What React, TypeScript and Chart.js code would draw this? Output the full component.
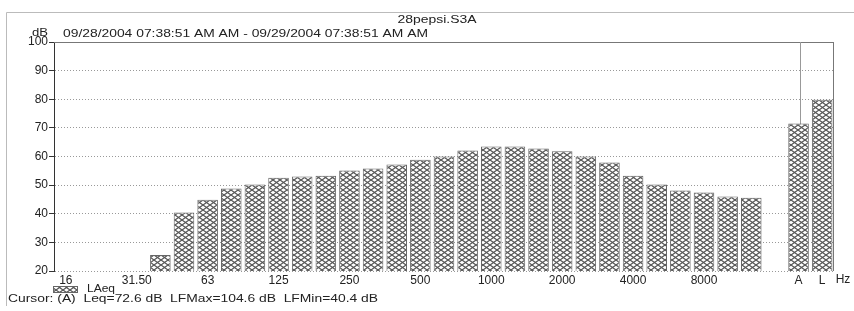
import React, { useEffect, useRef } from "react";
import { Chart, registerables } from "chart.js";

Chart.register(...registerables);

// ---- data ----
const categories = [
  "16", "20", "25", "31.5", "40", "50", "63", "80", "100", "125", "160", "200",
  "250", "315", "400", "500", "630", "800", "1000", "1250", "1600", "2000",
  "2500", "3150", "4000", "5000", "6300", "8000", "10000", "12500", "", "A", "L",
];
const tickLabels = [
  "16", "", "", "31.50", "", "", "63", "", "", "125", "", "", "250", "", "",
  "500", "", "", "1000", "", "", "2000", "", "", "4000", "", "", "8000", "", "",
  "", "A", "L",
];
const laeq: (number | null)[] = [
  null, null, null, null, 25.6, 40.4, 44.9, 48.8, 50.2, 52.6, 53.0, 53.3,
  55.1, 55.8, 57.2, 58.9, 60.0, 62.1, 63.5, 63.5, 62.8, 61.8, 60.0, 57.9,
  53.3, 50.2, 48.1, 47.4, 46.0, 45.6, null, 71.5, 79.8,
];
const yMin = 20;
const yMax = 100;
const yStep = 10;
const seriesName = "LAeq";
const titleText = "28pepsi.S3A";
const subtitleText = "09/28/2004 07:38:51 AM AM - 09/29/2004 07:38:51 AM AM";
const yUnit = "dB";
const xUnit = "Hz";
const cursorText = "Cursor: (A)  Leq=72.6 dB  LFMax=104.6 dB  LFMin=40.4 dB";

const FONT = '"Liberation Sans", Arial, sans-serif';
const INK = "#222";

function makePattern(): CanvasPattern | string {
  const tile = document.createElement("canvas");
  tile.width = 7;
  tile.height = 5;
  const t = tile.getContext("2d");
  if (!t) return "#bbb";
  t.fillStyle = "#fff";
  t.fillRect(0, 0, 7, 5);
  t.strokeStyle = "#555";
  t.lineWidth = 1.2;
  t.beginPath();
  t.moveTo(0, 0);
  t.lineTo(7, 5);
  t.moveTo(0, 5);
  t.lineTo(7, 0);
  t.stroke();
  const p = t.createPattern(tile, "repeat");
  return p || "#bbb";
}

function stretchText(
  ctx: CanvasRenderingContext2D,
  text: string,
  x: number,
  y: number,
  size: number,
  targetWidth: number,
  align: "left" | "center" = "left"
) {
  ctx.save();
  ctx.font = `${size}px ${FONT}`;
  ctx.fillStyle = INK;
  ctx.textBaseline = "middle";
  ctx.textAlign = "left";
  const w = ctx.measureText(text).width;
  const s = targetWidth / w;
  const left = align === "center" ? x - targetWidth / 2 : x;
  ctx.translate(left, y);
  ctx.scale(s, 1);
  ctx.fillText(text, 0, 0);
  ctx.restore();
}

export default function App() {
  const ref = useRef<HTMLCanvasElement | null>(null);

  useEffect(() => {
    document.body.style.margin = "0";
    const canvas = ref.current;
    if (!canvas) return;
    const pattern = makePattern();

    const decor = {
      id: "decor",
      beforeDatasetsDraw(chart: any) {
        const { ctx, chartArea } = chart;
        const xs = chart.scales.x;
        ctx.save();
        ctx.strokeStyle = "#777";
        ctx.lineWidth = 1;
        ctx.beginPath();
        ctx.moveTo(chartArea.left, chartArea.top + 0.5);
        ctx.lineTo(chartArea.right, chartArea.top + 0.5);
        ctx.stroke();
        ctx.beginPath();
        ctx.moveTo(chartArea.right - 0.5, chartArea.top);
        ctx.lineTo(chartArea.right - 0.5, chartArea.bottom);
        ctx.stroke();
        const sx = Math.round(xs.getPixelForValue(31)) + 1.5;
        ctx.strokeStyle = "#999";
        ctx.beginPath();
        ctx.moveTo(sx, chartArea.top);
        ctx.lineTo(sx, chartArea.bottom);
        ctx.stroke();
        ctx.restore();
      },
      afterDraw(chart: any) {
        const { ctx, chartArea } = chart;
        ctx.save();
        ctx.strokeStyle = "#bbb";
        ctx.lineWidth = 1;
        ctx.beginPath();
        ctx.moveTo(854, 12.5);
        ctx.lineTo(6.5, 12.5);
        ctx.lineTo(6.5, 306);
        ctx.stroke();
        ctx.restore();

        stretchText(ctx, titleText, 437, 20, 11, 79, "center");
        stretchText(ctx, subtitleText, 63, 34, 11, 365);
        stretchText(ctx, yUnit, 32, 33, 11, 16);

        ctx.save();
        ctx.font = `12px ${FONT}`;
        ctx.fillStyle = INK;
        ctx.textAlign = "center";
        ctx.textBaseline = "middle";
        ctx.fillText(xUnit, chartArea.right + 9, 280);
        ctx.restore();

        ctx.save();
        ctx.fillStyle = pattern as any;
        ctx.fillRect(53, 286, 25, 7);
        ctx.strokeStyle = "#666";
        ctx.strokeRect(53.5, 286.5, 24, 6);
        ctx.restore();
        stretchText(ctx, seriesName, 87, 289.5, 10, 28);

        stretchText(ctx, cursorText, 8, 299, 10, 370);
      },
    };

    const chart = new Chart(canvas, {
      type: "bar",
      data: {
        labels: categories,
        datasets: [
          {
            label: seriesName,
            data: laeq,
            backgroundColor: pattern as any,
            borderColor: "#666",
            borderWidth: 1,
            categoryPercentage: 1,
            barPercentage: 0.87,
          },
        ],
      },
      options: {
        animation: false,
        responsive: false,
        maintainAspectRatio: false,
        devicePixelRatio: 1,
        layout: { padding: { left: 0, right: 20, top: 42, bottom: 0 } },
        plugins: {
          legend: { display: false },
          tooltip: { enabled: false },
          title: { display: false },
        },
        scales: {
          x: {
            grid: { display: false, drawTicks: false },
            border: { display: false },
            ticks: {
              autoSkip: false,
              maxRotation: 0,
              minRotation: 0,
              padding: 2,
              color: INK,
              font: { family: FONT, size: 12 },
              callback: (_v: any, i: number) => tickLabels[i],
            },
            afterFit: (s: any) => {
              s.height = 40;
            },
          },
          y: {
            min: yMin,
            max: yMax,
            ticks: {
              stepSize: yStep,
              padding: 1,
              color: INK,
              font: { family: FONT, size: 12 },
            },
            grid: {
              color: "#999",
              lineWidth: 1,
              drawTicks: true,
              tickLength: 5,
              tickColor: "#333",
            },
            border: { display: true, color: "#333", width: 1, dash: [1, 2] },
            afterFit: (s: any) => {
              s.width = 54;
            },
          },
        },
      },
      plugins: [decor],
    });

    return () => chart.destroy();
  }, []);

  return (
    <div style={{ width: 854, height: 311, background: "#fff" }}>
      <canvas ref={ref} width={854} height={311} style={{ display: "block" }} />
    </div>
  );
}
